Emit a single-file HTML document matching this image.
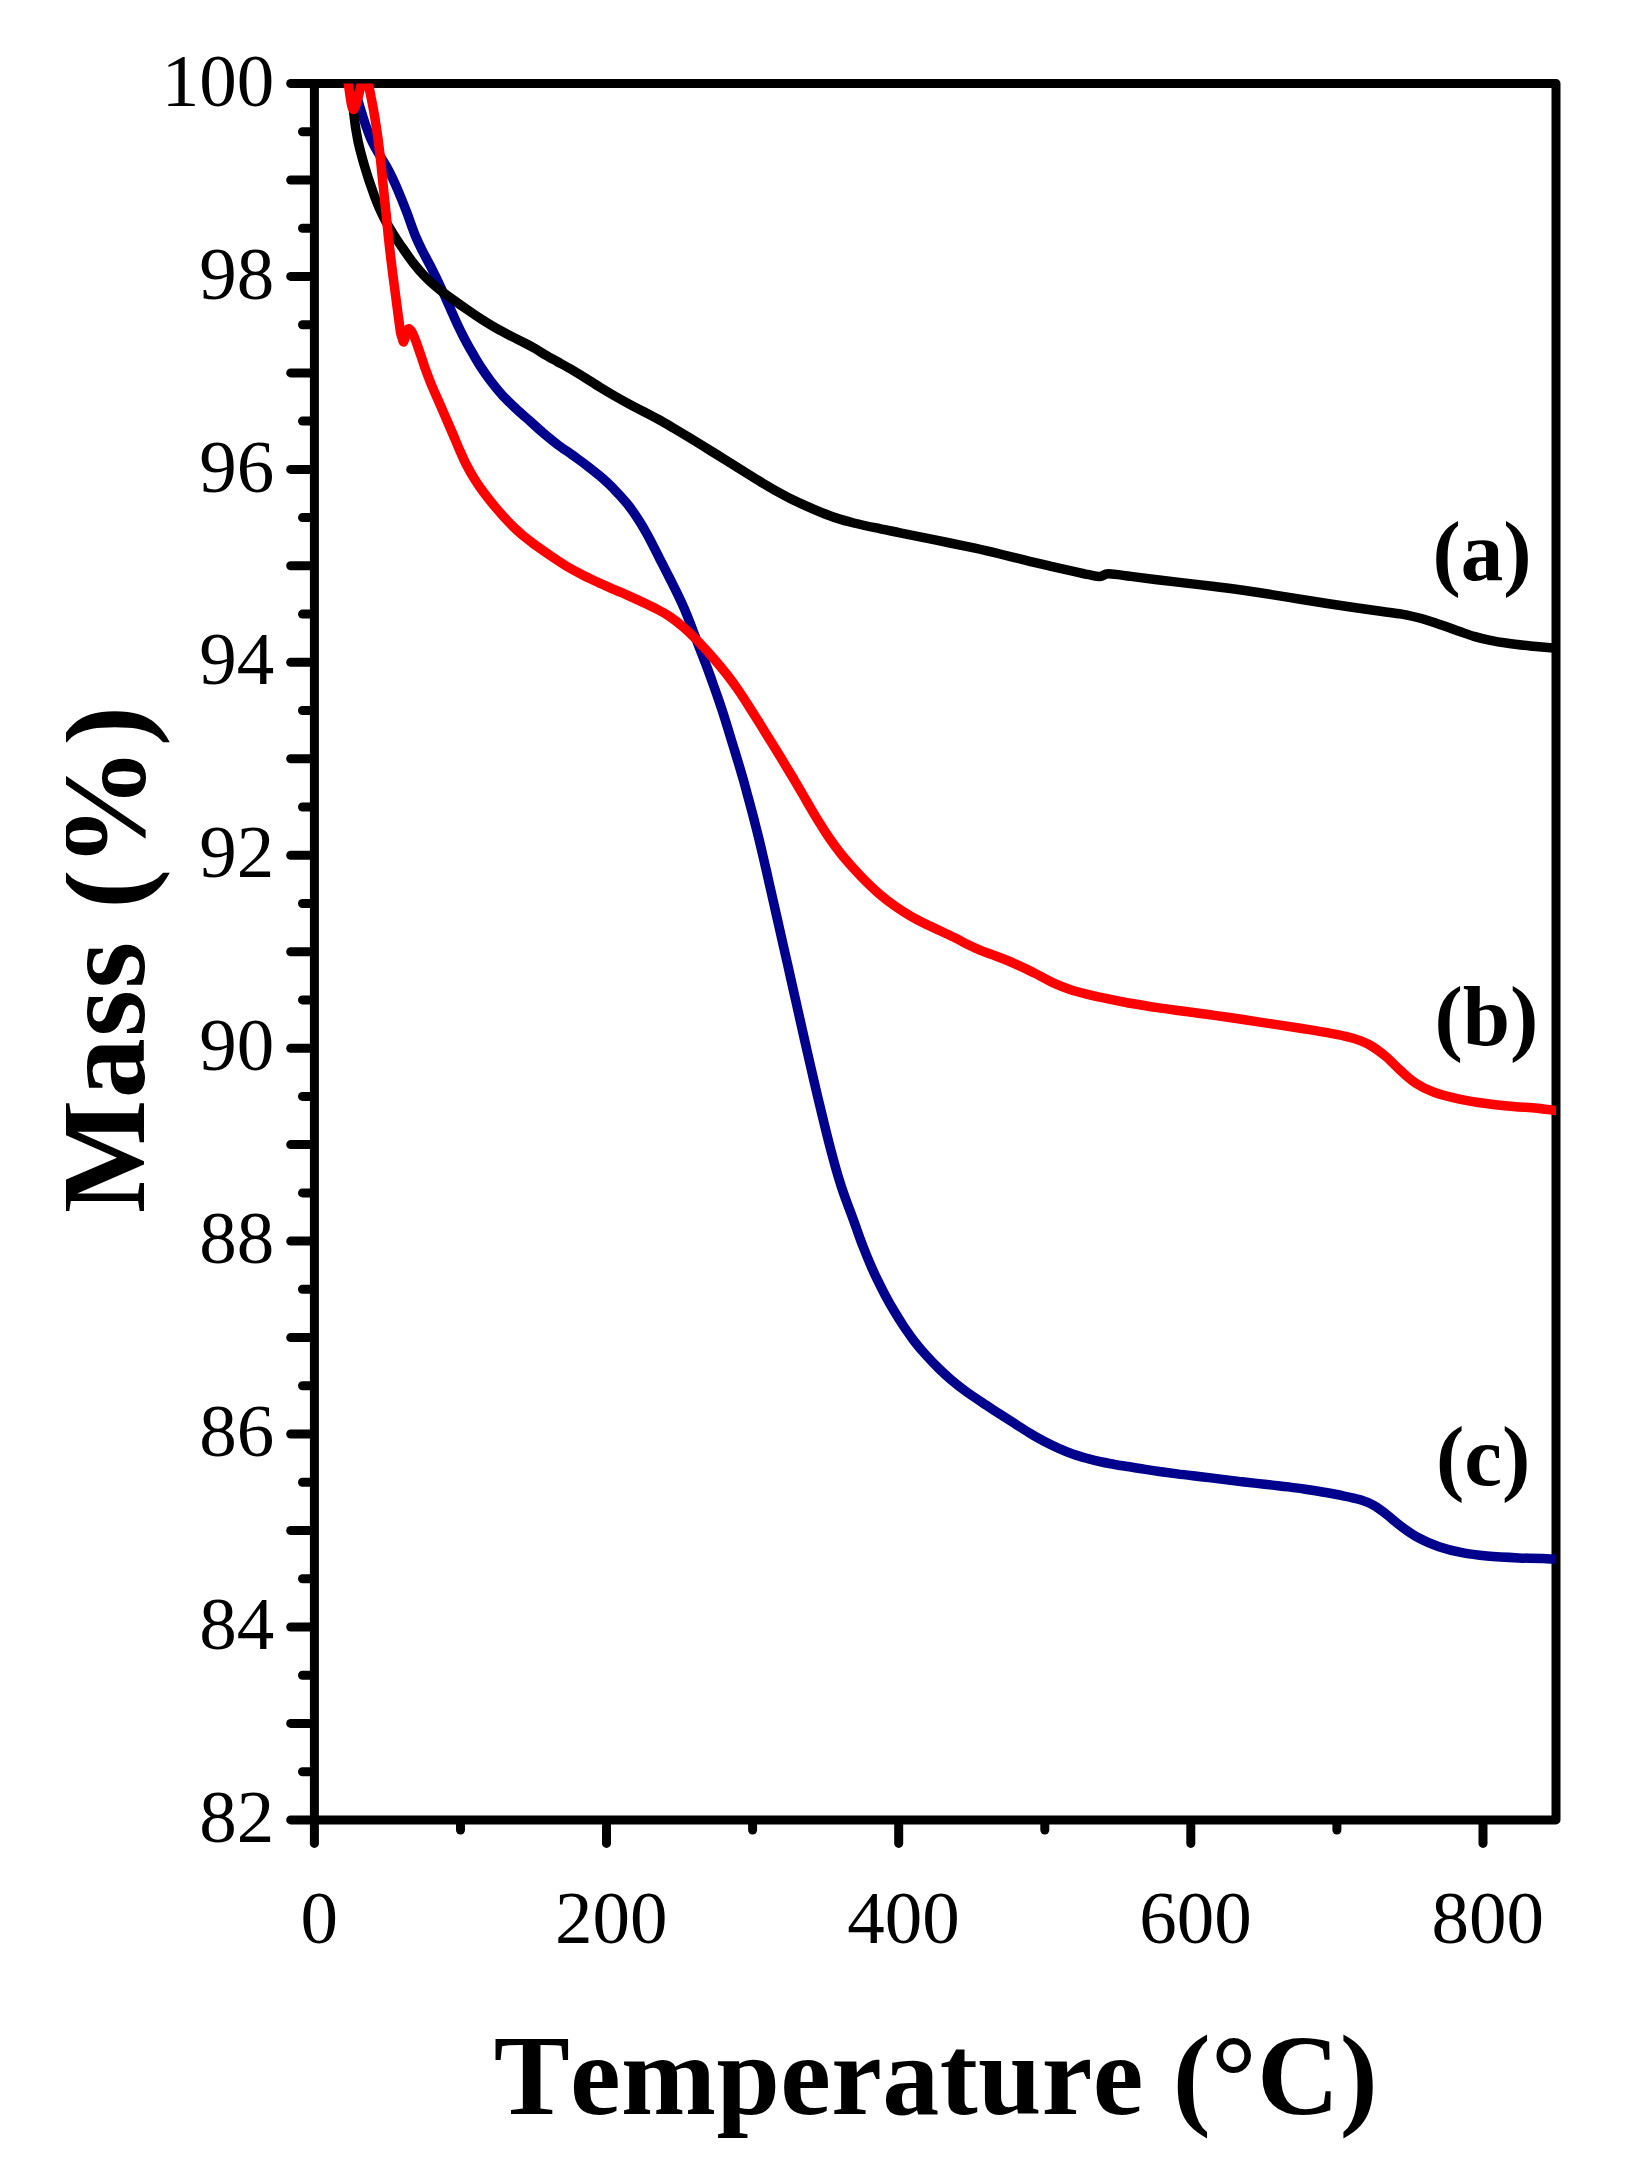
<!DOCTYPE html>
<html><head><meta charset="utf-8"><title>TGA</title>
<style>html,body{margin:0;padding:0;background:#fff;overflow:hidden;width:1636px;height:2164px}svg{display:block}text{font-family:"Liberation Serif","Times New Roman",serif;fill:#000;font-kerning:none}</style></head><body>
<svg width="1636" height="2164" viewBox="0 0 1636 2164">
<rect width="1636" height="2164" fill="#fff"/>
<defs><clipPath id="plot"><rect x="314.4" y="83.5" width="1241.6" height="1736.4"/></clipPath><clipPath id="ycut"><rect x="66" y="0" width="300" height="2164"/></clipPath></defs>
<g stroke="#000" stroke-width="9" stroke-linecap="round" stroke-linejoin="round" fill="none">
<rect x="314.4" y="83.5" width="1241.6" height="1736.4"/>
<line x1="312.4" y1="83.5" x2="290.7" y2="83.5"/>
<line x1="312.4" y1="131.7" x2="302.5" y2="131.7"/>
<line x1="312.4" y1="180.0" x2="290.7" y2="180.0"/>
<line x1="312.4" y1="228.2" x2="302.5" y2="228.2"/>
<line x1="312.4" y1="276.4" x2="290.7" y2="276.4"/>
<line x1="312.4" y1="324.7" x2="302.5" y2="324.7"/>
<line x1="312.4" y1="372.9" x2="290.7" y2="372.9"/>
<line x1="312.4" y1="421.1" x2="302.5" y2="421.1"/>
<line x1="312.4" y1="469.4" x2="290.7" y2="469.4"/>
<line x1="312.4" y1="517.6" x2="302.5" y2="517.6"/>
<line x1="312.4" y1="565.8" x2="290.7" y2="565.8"/>
<line x1="312.4" y1="614.1" x2="302.5" y2="614.1"/>
<line x1="312.4" y1="662.3" x2="290.7" y2="662.3"/>
<line x1="312.4" y1="710.5" x2="302.5" y2="710.5"/>
<line x1="312.4" y1="758.8" x2="290.7" y2="758.8"/>
<line x1="312.4" y1="807.0" x2="302.5" y2="807.0"/>
<line x1="312.4" y1="855.2" x2="290.7" y2="855.2"/>
<line x1="312.4" y1="903.5" x2="302.5" y2="903.5"/>
<line x1="312.4" y1="951.7" x2="290.7" y2="951.7"/>
<line x1="312.4" y1="999.9" x2="302.5" y2="999.9"/>
<line x1="312.4" y1="1048.2" x2="290.7" y2="1048.2"/>
<line x1="312.4" y1="1096.4" x2="302.5" y2="1096.4"/>
<line x1="312.4" y1="1144.6" x2="290.7" y2="1144.6"/>
<line x1="312.4" y1="1192.9" x2="302.5" y2="1192.9"/>
<line x1="312.4" y1="1241.1" x2="290.7" y2="1241.1"/>
<line x1="312.4" y1="1289.3" x2="302.5" y2="1289.3"/>
<line x1="312.4" y1="1337.6" x2="290.7" y2="1337.6"/>
<line x1="312.4" y1="1385.8" x2="302.5" y2="1385.8"/>
<line x1="312.4" y1="1434.0" x2="290.7" y2="1434.0"/>
<line x1="312.4" y1="1482.3" x2="302.5" y2="1482.3"/>
<line x1="312.4" y1="1530.5" x2="290.7" y2="1530.5"/>
<line x1="312.4" y1="1578.7" x2="302.5" y2="1578.7"/>
<line x1="312.4" y1="1627.0" x2="290.7" y2="1627.0"/>
<line x1="312.4" y1="1675.2" x2="302.5" y2="1675.2"/>
<line x1="312.4" y1="1723.4" x2="290.7" y2="1723.4"/>
<line x1="312.4" y1="1771.7" x2="302.5" y2="1771.7"/>
<line x1="312.4" y1="1819.9" x2="290.7" y2="1819.9"/>
<line x1="314.4" y1="1821.9" x2="314.4" y2="1843.4"/>
<line x1="460.5" y1="1821.9" x2="460.5" y2="1830.0"/>
<line x1="606.5" y1="1821.9" x2="606.5" y2="1843.4"/>
<line x1="752.6" y1="1821.9" x2="752.6" y2="1830.0"/>
<line x1="898.7" y1="1821.9" x2="898.7" y2="1843.4"/>
<line x1="1044.8" y1="1821.9" x2="1044.8" y2="1830.0"/>
<line x1="1190.8" y1="1821.9" x2="1190.8" y2="1843.4"/>
<line x1="1336.9" y1="1821.9" x2="1336.9" y2="1830.0"/>
<line x1="1483.0" y1="1821.9" x2="1483.0" y2="1843.4"/>
</g>
<g clip-path="url(#plot)" fill="none" stroke-width="9.5" stroke-linejoin="round" stroke-linecap="butt">
<path stroke="#00008c" d="M352.9,80.9 C353.6,83.7 355.7,92.2 357.1,97.4 C358.6,102.6 360.0,107.2 361.5,112.1 C363.0,116.9 364.4,121.6 366.1,126.3 C367.8,131.1 369.5,136.0 371.6,140.6 C373.7,145.2 376.3,149.6 378.8,153.8 C381.2,158.1 384.0,162.0 386.3,166.0 C388.5,169.9 390.5,173.8 392.3,177.7 C394.2,181.6 395.8,185.5 397.5,189.4 C399.2,193.3 400.8,197.3 402.4,201.2 C404.0,205.1 405.5,209.0 407.0,212.9 C408.5,216.8 409.8,220.7 411.2,224.6 C412.7,228.6 414.0,232.4 415.7,236.6 C417.5,240.8 419.6,245.2 421.9,249.8 C424.2,254.4 427.0,259.5 429.6,264.4 C432.1,269.4 434.7,274.5 437.2,279.7 C439.7,284.9 442.1,290.2 444.5,295.5 C446.9,300.7 449.3,306.3 451.5,311.2 C453.7,316.2 455.7,320.8 457.8,325.2 C459.9,329.6 461.7,333.3 464.0,337.7 C466.3,342.0 468.7,346.5 471.4,351.2 C474.0,355.9 477.0,361.0 480.1,365.9 C483.3,370.8 486.7,375.8 490.4,380.6 C494.1,385.4 498.0,390.3 502.1,394.9 C506.3,399.4 510.8,403.7 515.3,408.0 C519.8,412.3 524.5,416.3 529.2,420.4 C533.8,424.5 538.4,428.8 543.1,432.8 C547.8,436.8 552.6,440.7 557.4,444.4 C562.2,448.0 567.1,451.2 571.9,454.6 C576.6,458.1 581.3,461.3 586.0,464.9 C590.7,468.5 595.4,472.2 600.1,476.2 C604.8,480.3 609.7,484.7 614.1,489.3 C618.6,493.8 623.1,498.8 627.0,503.6 C630.9,508.4 634.4,513.4 637.6,518.3 C640.9,523.2 643.7,528.1 646.4,533.0 C649.2,537.9 651.6,542.7 654.1,547.6 C656.7,552.6 659.1,557.5 661.7,562.7 C664.3,567.8 667.1,573.2 669.8,578.5 C672.5,583.8 675.2,589.2 677.7,594.3 C680.2,599.4 682.5,604.4 684.6,609.3 C686.7,614.3 688.6,619.1 690.5,624.0 C692.3,628.9 694.1,633.8 696.0,638.7 C697.8,643.6 699.7,648.4 701.6,653.3 C703.5,658.2 705.5,663.1 707.3,668.0 C709.1,672.9 710.9,677.8 712.6,682.7 C714.4,687.6 716.1,692.5 717.8,697.4 C719.5,702.3 721.1,707.1 722.7,712.0 C724.3,716.9 725.9,722.1 727.3,726.7 C728.7,731.3 730.0,735.7 731.3,739.9 C732.6,744.0 733.6,747.4 734.9,751.5 C736.2,755.7 737.5,760.0 738.9,764.7 C740.3,769.3 741.8,774.4 743.2,779.3 C744.6,784.2 745.9,789.1 747.2,794.0 C748.6,798.9 749.9,803.8 751.2,808.7 C752.5,813.6 753.8,818.4 755.0,823.3 C756.2,828.2 757.5,833.1 758.7,838.0 C759.9,842.9 761.1,847.8 762.2,852.7 C763.4,857.6 764.5,862.5 765.6,867.4 C766.8,872.3 767.8,877.0 768.9,882.0 C770.1,887.1 771.1,891.6 772.5,897.8 C773.9,904.0 775.5,910.9 777.4,919.4 C779.3,927.8 781.7,938.4 783.9,948.2 C786.2,958.1 788.6,968.7 790.8,978.7 C793.0,988.6 795.2,998.2 797.4,1008.0 C799.6,1017.8 801.8,1027.6 804.0,1037.4 C806.2,1047.2 808.4,1056.9 810.7,1066.7 C812.9,1076.5 815.2,1086.2 817.5,1096.0 C819.8,1105.8 822.2,1115.6 824.6,1125.4 C827.0,1135.2 829.5,1145.3 832.1,1154.7 C834.6,1164.2 837.4,1174.1 839.9,1182.0 C842.3,1189.9 844.7,1196.5 846.8,1202.2 C848.8,1207.9 850.4,1211.5 852.1,1216.3 C853.9,1221.1 855.5,1225.7 857.3,1230.8 C859.1,1235.9 861.1,1241.5 863.2,1246.9 C865.3,1252.3 867.5,1257.7 869.8,1263.1 C872.1,1268.5 874.5,1273.9 877.1,1279.2 C879.7,1284.6 882.4,1290.0 885.2,1295.2 C888.0,1300.5 890.9,1305.7 894.0,1310.8 C897.1,1316.0 900.2,1321.0 903.5,1326.0 C906.9,1331.0 910.3,1335.9 914.0,1340.8 C917.7,1345.6 921.6,1350.3 925.8,1354.9 C929.9,1359.5 934.2,1364.0 938.6,1368.2 C943.0,1372.5 947.5,1376.7 952.1,1380.6 C956.8,1384.5 961.4,1388.1 966.4,1391.8 C971.4,1395.4 976.7,1398.9 982.2,1402.5 C987.6,1406.2 993.5,1409.9 999.0,1413.5 C1004.4,1417.0 1009.6,1420.3 1014.7,1423.6 C1019.7,1426.8 1024.4,1429.9 1029.3,1432.8 C1034.2,1435.8 1039.1,1438.6 1044.0,1441.2 C1048.9,1443.7 1053.8,1446.1 1058.7,1448.3 C1063.6,1450.5 1068.4,1452.4 1073.3,1454.2 C1078.2,1455.9 1083.3,1457.3 1088.0,1458.6 C1092.7,1459.9 1097.3,1461.0 1101.8,1462.0 C1106.2,1462.9 1110.2,1463.6 1114.8,1464.5 C1119.5,1465.3 1124.4,1466.0 1129.5,1466.8 C1134.6,1467.6 1140.1,1468.6 1145.4,1469.4 C1150.7,1470.2 1155.9,1471.0 1161.2,1471.8 C1166.5,1472.5 1171.8,1473.2 1177.1,1473.9 C1182.4,1474.6 1187.7,1475.2 1193.0,1475.8 C1198.3,1476.4 1203.6,1477.0 1208.9,1477.6 C1214.2,1478.3 1219.5,1478.9 1224.8,1479.6 C1230.1,1480.3 1235.4,1480.9 1240.7,1481.6 C1246.0,1482.2 1251.3,1482.8 1256.6,1483.4 C1261.9,1484.0 1267.2,1484.5 1272.5,1485.1 C1277.8,1485.7 1282.9,1486.2 1288.4,1486.9 C1293.9,1487.6 1299.3,1488.3 1305.2,1489.2 C1311.1,1490.1 1317.5,1491.1 1323.8,1492.2 C1330.1,1493.3 1337.0,1494.5 1343.1,1495.8 C1349.2,1497.0 1355.3,1498.2 1360.4,1499.8 C1365.5,1501.4 1369.5,1502.9 1373.8,1505.3 C1378.1,1507.7 1381.8,1510.8 1386.3,1514.2 C1390.8,1517.7 1395.4,1522.1 1400.7,1526.0 C1406.0,1529.9 1411.5,1534.1 1417.9,1537.5 C1424.3,1541.0 1431.7,1544.1 1439.0,1546.7 C1446.4,1549.2 1454.1,1551.1 1462.1,1552.7 C1470.1,1554.3 1477.6,1555.2 1487.0,1556.1 C1496.5,1556.9 1506.8,1557.4 1518.7,1557.9 C1530.5,1558.4 1551.4,1558.9 1558.0,1559.1"/>
<path stroke="#000" d="M350.3,78.0 C350.7,81.8 351.7,93.5 352.5,101.1 C353.2,108.6 354.1,116.7 355.0,123.4 C355.9,130.1 357.0,135.7 358.0,141.0 C359.1,146.3 360.3,150.7 361.5,155.3 C362.7,160.0 364.0,164.4 365.4,168.9 C366.7,173.4 368.1,177.7 369.6,182.1 C371.1,186.5 372.6,191.0 374.2,195.3 C375.8,199.6 377.5,204.0 379.3,208.1 C381.1,212.3 383.0,216.1 385.2,220.2 C387.4,224.3 389.7,228.2 392.5,232.8 C395.4,237.3 398.7,242.5 402.3,247.6 C405.8,252.7 409.8,258.6 413.7,263.5 C417.6,268.5 421.6,273.2 425.9,277.5 C430.1,281.8 434.5,285.5 439.0,289.2 C443.6,293.0 448.5,296.4 453.3,299.9 C458.2,303.4 463.1,306.8 468.0,310.1 C472.9,313.5 477.8,316.9 482.7,320.0 C487.6,323.1 492.5,326.1 497.4,328.9 C502.3,331.6 507.4,334.2 512.0,336.6 C516.7,339.0 521.2,341.1 525.2,343.2 C529.2,345.2 532.5,347.0 535.9,349.0 C539.3,351.0 542.2,353.0 545.8,355.1 C549.3,357.2 553.0,359.2 557.1,361.5 C561.3,363.8 566.0,366.2 570.7,369.0 C575.4,371.8 580.5,374.9 585.4,378.0 C590.3,381.1 595.1,384.3 600.0,387.3 C604.9,390.3 609.8,393.2 614.7,396.0 C619.6,398.8 624.4,401.5 629.3,404.1 C634.2,406.8 639.1,409.3 644.0,411.8 C648.9,414.4 653.8,416.9 658.7,419.5 C663.6,422.2 668.4,425.1 673.3,428.0 C678.2,430.9 683.1,433.8 688.0,436.8 C692.9,439.8 697.8,442.8 702.7,445.8 C707.6,448.8 712.5,451.9 717.4,454.9 C722.3,458.0 727.1,461.0 732.0,464.1 C736.9,467.2 741.8,470.3 746.7,473.3 C751.6,476.3 756.5,479.4 761.4,482.3 C766.3,485.2 771.1,488.2 776.0,490.9 C780.9,493.6 785.8,496.3 790.7,498.8 C795.6,501.2 800.3,503.4 805.4,505.7 C810.5,508.0 816.0,510.4 821.4,512.5 C826.7,514.6 832.1,516.7 837.5,518.4 C842.9,520.2 847.5,521.4 853.8,523.0 C860.0,524.5 867.3,526.1 875.0,527.7 C882.7,529.4 891.7,531.1 900.0,532.8 C908.3,534.5 916.7,536.2 925.0,537.9 C933.3,539.6 941.7,541.3 950.0,543.0 C958.3,544.7 966.7,546.4 975.0,548.2 C983.3,550.0 991.7,552.0 1000.0,554.0 C1008.3,556.0 1016.7,558.2 1025.0,560.2 C1033.3,562.3 1042.1,564.3 1050.0,566.1 C1057.9,567.9 1066.0,569.6 1072.5,571.1 C1079.0,572.5 1084.2,573.8 1088.8,574.7 C1093.3,575.6 1096.7,576.6 1100.0,576.5 C1103.3,576.4 1103.5,573.8 1108.6,573.8 C1113.7,573.8 1122.7,575.4 1130.8,576.4 C1138.8,577.4 1148.0,578.6 1157.2,579.7 C1166.4,580.8 1176.3,582.0 1185.8,583.1 C1195.3,584.2 1204.9,585.3 1214.4,586.5 C1223.9,587.6 1233.5,588.9 1243.0,590.2 C1252.5,591.6 1262.1,593.1 1271.6,594.6 C1281.2,596.1 1290.7,597.7 1300.3,599.2 C1309.8,600.7 1319.4,602.2 1328.9,603.7 C1338.4,605.2 1348.6,606.7 1357.5,608.0 C1366.4,609.3 1375.1,610.4 1382.5,611.5 C1389.8,612.5 1395.4,613.0 1401.7,614.1 C1408.0,615.3 1413.9,616.5 1420.3,618.3 C1426.8,620.0 1434.1,622.5 1440.5,624.7 C1446.9,626.8 1453.4,629.3 1459.0,631.3 C1464.6,633.2 1469.1,634.9 1474.1,636.4 C1479.2,637.9 1483.7,639.1 1489.3,640.2 C1494.9,641.4 1500.9,642.4 1507.8,643.3 C1514.6,644.3 1522.0,645.1 1530.4,646.0 C1538.8,646.8 1553.4,648.1 1558.0,648.5"/>
<path stroke="#ff0000" d="M346.8,76.0 C347.1,77.3 347.2,78.2 348.3,83.8 C349.4,89.4 351.3,109.5 353.5,109.5 C355.7,109.5 359.8,89.7 361.5,83.8 C363.2,77.9 362.7,75.6 363.5,74.0 C364.3,72.4 365.7,72.4 366.5,74.0 C367.3,75.6 367.6,79.9 368.4,83.8 C369.2,87.7 370.2,92.7 371.1,97.4 C372.1,102.0 373.0,106.9 373.8,111.7 C374.7,116.5 375.5,121.4 376.2,126.3 C376.9,131.2 377.6,136.1 378.3,141.0 C378.9,145.9 379.5,150.8 380.1,155.7 C380.7,160.6 381.1,165.5 381.6,170.4 C382.1,175.3 382.6,180.1 383.1,185.0 C383.6,189.9 384.1,194.8 384.6,199.7 C385.1,204.6 385.7,209.4 386.2,214.4 C386.7,219.4 387.1,224.1 387.7,229.8 C388.3,235.5 388.9,241.8 389.7,248.7 C390.5,255.6 391.5,263.7 392.4,271.2 C393.4,278.8 394.4,286.8 395.4,294.0 C396.3,301.2 397.3,308.2 398.1,314.6 C399.0,320.9 399.8,328.1 400.5,332.2 C401.2,336.3 402.0,337.3 402.5,338.9 C403.0,340.5 403.2,342.3 403.7,341.8 C404.2,341.3 404.8,338.1 405.5,336.0 C406.2,333.9 407.1,330.3 407.9,329.2 C408.6,328.1 409.2,329.0 410.0,329.6 C410.8,330.2 411.4,330.8 412.5,333.0 C413.6,335.2 415.1,339.0 416.5,342.8 C417.9,346.6 419.4,351.4 421.0,355.9 C422.6,360.5 424.1,365.4 425.8,370.2 C427.6,375.1 429.4,380.0 431.5,385.0 C433.6,390.0 435.8,395.0 438.2,400.3 C440.5,405.7 443.1,411.5 445.5,417.1 C448.0,422.8 450.5,428.6 452.8,434.0 C455.1,439.3 457.1,444.3 459.3,449.3 C461.5,454.3 463.5,459.1 466.0,464.0 C468.5,468.9 471.2,473.8 474.3,478.7 C477.3,483.6 480.7,488.5 484.4,493.4 C488.0,498.3 492.0,503.2 496.1,508.0 C500.2,512.9 504.5,517.8 508.9,522.3 C513.3,526.9 517.9,531.2 522.5,535.2 C527.2,539.1 532.0,542.6 536.8,546.2 C541.7,549.7 546.6,553.1 551.5,556.4 C556.4,559.7 561.3,563.0 566.2,566.0 C571.1,568.9 575.9,571.5 580.8,574.0 C585.7,576.6 590.6,578.9 595.5,581.2 C600.4,583.5 605.3,585.6 610.2,587.8 C615.1,590.0 620.0,592.0 625.0,594.1 C629.9,596.3 634.9,598.6 639.9,600.9 C644.8,603.2 649.8,605.4 654.7,608.0 C659.6,610.6 664.4,613.0 669.3,616.3 C674.2,619.6 679.1,623.4 684.0,627.7 C688.9,631.9 693.8,636.9 698.7,642.0 C703.6,647.1 708.6,652.6 713.3,658.1 C718.1,663.7 723.0,669.5 727.3,675.0 C731.6,680.5 735.5,686.0 739.0,691.1 C742.6,696.3 745.5,701.1 748.6,705.8 C751.7,710.6 754.4,715.0 757.4,719.8 C760.4,724.5 763.4,729.4 766.5,734.4 C769.6,739.3 772.9,744.6 776.0,749.7 C779.1,754.7 782.1,759.7 785.1,764.7 C788.1,769.6 791.0,774.4 793.9,779.3 C796.8,784.2 799.7,789.1 802.5,794.0 C805.4,798.9 808.1,803.8 811.0,808.7 C813.9,813.6 816.7,818.4 819.8,823.3 C822.8,828.2 825.9,833.1 829.3,838.0 C832.7,842.9 836.2,847.8 840.1,852.7 C844.0,857.6 848.3,862.5 852.6,867.4 C856.9,872.2 861.5,877.1 866.1,881.6 C870.8,886.2 875.6,890.8 880.4,894.9 C885.2,899.0 890.2,902.8 895.1,906.2 C900.0,909.7 904.8,912.7 909.8,915.6 C914.7,918.5 919.5,921.0 924.6,923.6 C929.8,926.2 935.5,928.6 940.6,931.0 C945.7,933.4 950.9,935.8 955.4,938.0 C959.8,940.1 963.1,942.2 967.2,944.2 C971.3,946.2 975.6,948.2 980.0,950.1 C984.4,951.9 989.0,953.4 993.6,955.2 C998.2,956.9 1002.3,958.4 1007.4,960.5 C1012.6,962.7 1018.8,965.5 1024.4,968.1 C1029.9,970.7 1035.6,973.7 1040.6,976.2 C1045.6,978.8 1049.4,981.2 1054.4,983.4 C1059.4,985.7 1065.1,987.9 1070.6,989.7 C1076.1,991.5 1081.8,992.9 1087.5,994.3 C1093.2,995.7 1097.8,996.8 1104.7,998.2 C1111.5,999.7 1119.8,1001.4 1128.6,1003.0 C1137.4,1004.5 1147.7,1006.2 1157.2,1007.6 C1166.7,1009.0 1176.3,1010.2 1185.8,1011.5 C1195.3,1012.9 1204.9,1014.1 1214.4,1015.4 C1223.9,1016.7 1233.5,1018.1 1243.0,1019.5 C1252.5,1020.9 1262.1,1022.4 1271.6,1023.9 C1281.2,1025.3 1291.0,1026.8 1300.3,1028.2 C1309.6,1029.7 1319.1,1031.1 1327.5,1032.7 C1335.8,1034.2 1343.4,1035.5 1350.3,1037.5 C1357.2,1039.4 1363.1,1041.3 1368.9,1044.5 C1374.7,1047.6 1380.1,1051.8 1385.4,1056.1 C1390.6,1060.4 1395.4,1065.9 1400.4,1070.4 C1405.4,1074.9 1409.8,1079.3 1415.4,1082.9 C1421.0,1086.6 1426.8,1089.5 1434.0,1092.2 C1441.1,1094.8 1449.6,1096.9 1458.3,1098.8 C1467.0,1100.7 1477.0,1102.3 1486.2,1103.5 C1495.4,1104.8 1504.9,1105.7 1513.4,1106.5 C1521.9,1107.3 1529.6,1107.5 1537.1,1108.3 C1544.5,1109.0 1554.5,1110.5 1558.0,1111.0"/>
</g>
<text x="274.3" y="1842.0" font-size="75" text-anchor="end">82</text>
<text x="274.3" y="1649.1" font-size="75" text-anchor="end">84</text>
<text x="274.3" y="1456.1" font-size="75" text-anchor="end">86</text>
<text x="274.3" y="1263.2" font-size="75" text-anchor="end">88</text>
<text x="274.3" y="1070.3" font-size="75" text-anchor="end">90</text>
<text x="274.3" y="877.3" font-size="75" text-anchor="end">92</text>
<text x="274.3" y="684.4" font-size="75" text-anchor="end">94</text>
<text x="274.3" y="491.5" font-size="75" text-anchor="end">96</text>
<text x="274.3" y="298.5" font-size="75" text-anchor="end">98</text>
<text x="274.3" y="105.6" font-size="75" text-anchor="end">100</text>
<text x="319.2" y="1943" font-size="75" text-anchor="middle">0</text>
<text x="611.3" y="1943" font-size="75" text-anchor="middle">200</text>
<text x="903.5" y="1943" font-size="75" text-anchor="middle">400</text>
<text x="1195.6" y="1943" font-size="75" text-anchor="middle">600</text>
<text x="1487.8" y="1943" font-size="75" text-anchor="middle">800</text>
<text x="1432.5" y="579.5" font-size="85" font-weight="bold">(a)</text>
<text x="1434.5" y="1044.5" font-size="85" font-weight="bold">(b)</text>
<text x="1436" y="1484.7" font-size="85" font-weight="bold">(c)</text>
<text x="935.9" y="2114.3" font-size="114" font-weight="bold" text-anchor="middle" letter-spacing="0.4">Temperature (°C)</text>
<g clip-path="url(#ycut)"><text transform="translate(143.8,1213) rotate(-90)" font-size="120" font-weight="bold" letter-spacing="1.5">Mass (%)</text></g>
</svg></body></html>
